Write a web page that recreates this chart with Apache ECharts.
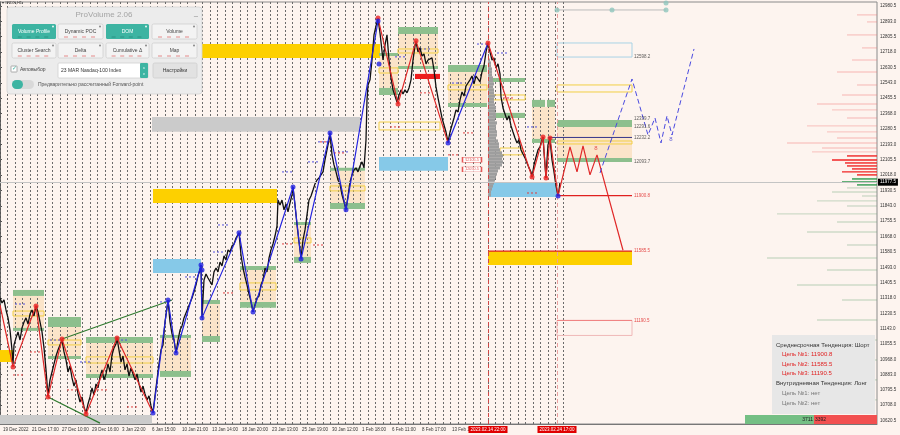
<!DOCTYPE html>
<html><head><meta charset="utf-8">
<script src="https://cdn.jsdelivr.net/npm/echarts@6/dist/echarts.min.js"></script>
<style>html,body{margin:0;padding:0;background:#fdf4ef}#c{width:900px;height:435px}</style>
</head><body><div id="c"></div>
<script>
// ---------- DATA ----------
const xTickLabels = ['19 Dec 2022','21 Dec 17:00','27 Dec 10:00','29 Dec 16:00','3 Jan 22:00','6 Jan 15:00','10 Jan 21:00','13 Jan 14:00','18 Jan 20:00','23 Jan 13:00','25 Jan 19:00','30 Jan 12:00','1 Feb 18:00','6 Feb 11:00','8 Feb 17:00','13 Feb 16:00'];
const xTickPos = [3,32,62,92,122,152,182,212,242,272,302,332,362,392,422,452];
const eventX = [488,557];
const eventLabels = ['2023.02.14 22:00','2023.02.24 17:00'];
const yTickLabels = [12980.5,12893.0,12805.5,12718.0,12630.5,12543.0,12455.5,12368.0,12280.5,12193.0,12105.5,12018.0,11930.5,11843.0,11755.5,11668.0,11580.5,11493.0,11405.5,11318.0,11230.5,11143.0,11055.5,10968.0,10883.0,10795.5,10708.0,10620.5];
const currentPrice = 11977.5;

const pricePath = [[0,11318],[2,11290],[4,11307],[6,11250],[8,11205],[10,11136],[12,11022],[13,10943],[14,11051],[16,11091],[18,11125],[20,11079],[22,11148],[24,11182],[26,11205],[28,11170],[30,11227],[32,11250],[34,11216],[36,11273],[38,11239],[40,11182],[42,11125],[44,11034],[46,10909],[48,10761],[50,10852],[52,10897],[54,10943],[56,10988],[58,11022],[60,11051],[62,11079],[64,11011],[66,10966],[68,10897],[70,10931],[72,10863],[74,10817],[76,10852],[78,10772],[80,10726],[82,10755],[84,10698],[86,10664],[88,10715],[90,10755],[92,10806],[94,10766],[96,10829],[98,10806],[100,10869],[102,10909],[104,10852],[106,10886],[108,10943],[110,10897],[112,10994],[114,11034],[116,11057],[117,11091],[119,11022],[121,10954],[123,10988],[125,10909],[127,10943],[129,10874],[131,10920],[133,10931],[135,10852],[137,10886],[139,10829],[141,10783],[143,10817],[145,10772],[147,10738],[149,10761],[151,10704],[153,10664],[155,10761],[157,10852],[159,10943],[161,11022],[163,11051],[165,11182],[167,11262],[168,11307],[170,11182],[172,11114],[174,11079],[176,11005],[178,11079],[180,11136],[182,11159],[184,11205],[186,11216],[188,11262],[190,11273],[192,11318],[194,11353],[196,11393],[198,11444],[200,11478],[201,11506],[202,11210],[204,11421],[206,11455],[208,11432],[210,11438],[212,11393],[214,11467],[216,11489],[218,11467],[220,11523],[222,11501],[224,11558],[226,11535],[228,11592],[230,11580],[232,11614],[234,11626],[236,11660],[238,11671],[239,11689],[241,11563],[243,11489],[245,11438],[247,11393],[249,11341],[251,11296],[253,11239],[255,11279],[257,11318],[259,11330],[261,11393],[263,11421],[265,11489],[267,11467],[269,11546],[271,11592],[273,11626],[275,11671],[277,11728],[278,11876],[280,11848],[282,11876],[284,11820],[286,11854],[288,11808],[290,11859],[292,11905],[293,11950],[295,11848],[297,11734],[299,11637],[301,11546],[303,11649],[305,11706],[307,11791],[309,11876],[311,11899],[313,11933],[315,11968],[317,11990],[319,12002],[321,12013],[323,12036],[325,12104],[327,12161],[329,12218],[330,12258],[332,12133],[334,12076],[336,12036],[338,11990],[340,11968],[342,11905],[344,11865],[346,11825],[348,11899],[350,11979],[352,12019],[354,12047],[356,12059],[358,12036],[360,12070],[362,12093],[364,12059],[366,12218],[367,12446],[368,12531],[370,12560],[372,12673],[374,12816],[376,12867],[378,12907],[380,12827],[383,12673],[385,12759],[387,12816],[389,12673],[391,12571],[393,12503],[395,12468],[397,12434],[399,12474],[401,12503],[403,12480],[405,12503],[407,12486],[409,12514],[411,12560],[413,12673],[415,12753],[416,12776],[418,12719],[420,12742],[422,12696],[424,12708],[426,12651],[428,12673],[430,12662],[432,12685],[434,12617],[436,12520],[438,12457],[440,12400],[442,12343],[444,12303],[446,12263],[448,12207],[450,12263],[452,12303],[454,12343],[456,12389],[458,12377],[460,12446],[462,12491],[464,12468],[466,12525],[468,12514],[470,12560],[472,12582],[474,12537],[476,12582],[478,12571],[480,12548],[482,12605],[484,12639],[486,12719],[488,12770],[490,12719],[492,12673],[494,12685],[496,12628],[498,12651],[500,12594],[501,12463],[503,12400],[505,12366],[507,12332],[509,12355],[511,12298],[513,12263],[515,12229],[517,12201],[519,12218],[521,12161],[523,12138],[525,12116],[527,12087],[529,12059],[531,12036],[532,12007],[534,12076],[536,12121],[538,12161],[540,12178],[542,12218],[543,12235],[544,12150],[545,12076],[546,12002],[547,12104],[548,12190],[550,12229],[551,12161],[552,12104],[554,12036],[556,11956],[558,11899],[559,11933],[560,11977.5]];

const zigRed1 = [[0,11279],[13,10926],[36,11273],[48,10755],[62,11085],[86,10658],[117,11091],[153,10664]];
const zigBlue1 = [[153,10664],[168,11307],[176,11005],[201,11506],[202,11205],[239,11689],[253,11239],[293,11950],[301,11540],[330,12258],[346,11820],[378,12895]];
const zigRed2 = [[378,12912],[398,12423],[416,12782],[448,12201]];
const zigBlue2 = [[448,12201],[488,12770]];
const zigRed3 = [[488,12770],[532,12007],[543,12235],[546,12002],[550,12229],[558,11899]];
const redDots = [[13,10926],[36,11273],[48,10755],[62,11085],[86,10658],[117,11091],[378,12912],[398,12423],[416,12782],[488,12770],[532,12007],[543,12235],[546,12002],[550,12229]];
const blueDots = [[153,10664],[168,11307],[176,11005],[201,11506],[202,11478],[202,11205],[239,11689],[253,11239],[293,11950],[301,11540],[330,12258],[346,11820],[378,12895],[379,12651],[448,12201],[558,11899]];
const forecastRed = [[558,11899],[570,12178],[577,12036],[583,12184],[590,12019],[597,12133],[623,11590]];
const forecastBlue = [[600,12030],[632,12565],[648,12246],[655,12343],[661,12201],[667,12355],[672,12246],[694,12736]];
const trendUp = [[62,11085],[172,11307]];
const trendDown = [[48,10755],[100,10606]];

// zones: [xFrom, xTo, priceTop, priceBottom]
const yellowZones = [[0,13,11022,10954],[150,380,12764,12685],[153,277,11939,11859],[488,632,11586,11506]];
const grayZones = [[152,360,12349,12264],[0,152,10652,10601]];
const blueZones = [[153,201,11540,11461],[379,448,12121,12042],[489,557,11973,11893]];
const greenZones = [[13,44,11364,11330],[13,44,11148,11131],[48,81,11210,11153],[48,81,10988,10971],[86,153,11096,11062],[86,153,10886,10863],[160,191,11108,11091],[160,191,10903,10869],[202,220,11307,11284],[202,220,11102,11068],[240,276,11501,11478],[240,276,11296,11262],[294,311,11751,11734],[294,311,11552,11518],[330,365,12059,12042],[330,365,11859,11825],[379,398,12713,12696],[379,398,12514,12474],[398,438,12861,12821],[398,438,12639,12622],[448,487,12645,12605],[448,487,12429,12406],[490,525,12571,12548],[493,525,12372,12343],[532,545,12446,12406],[547,555,12446,12406],[532,555,12224,12201],[557,632,12332,12292],[557,632,12115,12093]];
const orangeZones = [[13,44,11330,11148],[48,81,11153,10988],[86,153,11062,10886],[160,191,11091,10903],[202,220,11284,11102],[240,276,11478,11296],[294,311,11734,11552],[330,365,12042,11859],[379,398,12696,12514],[398,438,12821,12639],[448,487,12605,12429],[532,555,12406,12224],[557,632,12292,12115]];
const redZones = [[415,440,12594,12565]];
const yellowBoxes = [[13,44,11244,11216],[48,81,11079,11051],[86,153,10983,10948],[240,276,11404,11364],[294,311,11660,11632],[330,365,11956,11928],[379,398,12628,12599],[398,438,12736,12713],[448,487,12531,12503],[490,525,12474,12446],[379,440,12320,12275],[500,522,12172,12133],[557,632,12531,12491],[557,632,12212,12195]];
const blueBoxes = [[557,632,12770,12690]];
const pinkBoxes = [[557,632,11190.5,11105]];

const navyLevels = [[548,632,12232.2]];
const targets = [11900.8, 11585.5, 11190.5];
const targetLines = [[557,632,11900.8],[488,632,11585.5]];
const pinkLines = [[557,632,11190.5]];
const levelLabels = [[632,12690,'12598.2'],[632,12339.7,'12339.7'],[632,12291.6,'12291.6'],[632,12232.2,'12232.2'],[632,12093.7,'12093.7']];
const priceTags = [[472,12105.5,'12105.5'],[472,12050.5,'12050.5']];
const waveMarks = [[596,12168,'8','#e03030'],[671,12222,'8','#4040d0']];
const tealDots = [[557,12958],[612,12958],[666,12958],[666,12998]];

const blueDashes = [[15,11284],[50,11079],[80,10954],[117,11079],[160,11296],[185,11438],[213,11580],[218,11734],[282,12036],[308,12093],[318,12207],[338,12150],[395,12691],[420,12736],[452,12542],[477,12764],[497,12713],[527,12292]];
const redDashes = [[13,10880],[30,11011],[67,10795],[97,10795],[127,10698],[223,11347],[282,11626],[313,11620],[320,12207],[334,12144],[390,12292],[420,12486],[448,12133],[463,12258],[503,12457],[527,11916]];

// volume profile [price, width]
const profile = [[12673,2],[12656,3],[12639,3],[12622,4],[12605,4],[12588,4],[12571,5],[12554,5],[12537,6],[12520,5],[12503,6],[12486,6],[12468,7],[12451,6],[12434,6],[12417,7],[12400,8],[12383,7],[12366,8],[12349,8],[12332,7],[12315,9],[12298,8],[12281,8],[12264,9],[12246,9],[12229,8],[12212,10],[12195,11],[12178,11],[12161,12],[12144,14],[12127,15],[12110,14],[12093,15],[12076,14],[12059,12],[12042,10],[12024,9],[12007,8],[11990,7],[11973,6],[11956,5],[11939,4],[11922,3],[11905,3]];

// DOM [price, length]
const domRedFaint = [[12930,20],[12890,10],[12816,30],[12742,15],[12673,25],[12605,40],[12531,20],[12474,35],[12423,60],[12389,45],[12343,30],[12298,70],[12264,50],[12229,40],[12201,90],[12172,55],[12150,65]];
const domRedStrong = [[12127,30],[12104,45],[12087,32],[12070,30],[12053,25],[12036,35],[12019,20]];
const domGreenStrong = [[11996,25],[11979,35],[11962,20]];
const domGreenFaint = [[11945,30],[11922,45],[11899,15],[11871,60],[11842,30],[11797,100],[11751,40],[11694,70],[11620,30],[11546,110],[11478,50],[11392,80],[11307,35],[11193,60],[11079,25],[10965,45],[10852,30],[10738,50]];

const buyVolume = 3711, sellVolume = 3392;

// ---------- CHART ----------
const X_MAX = 877, Y_MIN = 10600.9, Y_MAX = 13003.3;
const FONT = 'Liberation Sans';

function rectSeries(data, style, z) {
  return { type:'custom', xAxisIndex:0, yAxisIndex:0, z, silent:true, data, encode:{x:[0,1], y:[2,3]},
    renderItem(p, api) {
      const a = api.coord([api.value(0), api.value(2)]);
      const b = api.coord([api.value(1), api.value(3)]);
      return { type:'rect', shape:{x:a[0], y:a[1], width:b[0]-a[0], height:b[1]-a[1]}, style };
    } };
}
function segSeries(data, style, z) {
  return { type:'custom', xAxisIndex:0, yAxisIndex:0, z, silent:true, data, encode:{x:[0,1], y:2},
    renderItem(p, api) {
      const a = api.coord([api.value(0), api.value(2)]);
      const b = api.coord([api.value(1), api.value(2)]);
      return { type:'line', shape:{x1:a[0], y1:a[1], x2:b[0], y2:b[1]}, style };
    } };
}
function dashSeries(data, color) {
  return { type:'custom', xAxisIndex:0, yAxisIndex:0, z:3, silent:true, data, encode:{x:0, y:1},
    renderItem(p, api) {
      const a = api.coord([api.value(0), api.value(1)]);
      const b = api.coord([api.value(0) + 12, api.value(1)]);
      return { type:'line', shape:{x1:a[0], y1:a[1], x2:b[0], y2:b[1]}, style:{stroke:color, lineWidth:1, lineDash:[2,2]} };
    } };
}
function domSeries(data, fill) {
  return { type:'custom', xAxisIndex:0, yAxisIndex:0, z:2, silent:true, data, encode:{y:0},
    renderItem(p, api) {
      const a = api.coord([X_MAX - api.value(1), api.value(0)]);
      const b = api.coord([X_MAX, api.value(0)]);
      return { type:'rect', shape:{x:a[0], y:a[1]-0.7, width:b[0]-a[0], height:1.4}, style:{fill} };
    } };
}
function lineS(data, color, width, z, dashed) {
  return { type:'line', xAxisIndex:0, yAxisIndex:0, data, symbol:'none', z, silent:true,
    lineStyle:{color, width, type: dashed ? [5,3] : 'solid'} };
}
function dots(data, color) {
  return { type:'scatter', xAxisIndex:0, yAxisIndex:0, data, symbol:'circle', symbolSize:5, z:6, silent:true, itemStyle:{color} };
}

const chart = echarts.init(document.getElementById('c'), null, {renderer:'canvas'});

const series = [
  rectSeries(orangeZones, {fill:'#fbe4c9'}, 0),
  rectSeries(grayZones, {fill:'#cbcbcb'}, 2),
  rectSeries(yellowZones, {fill:'#fdd000'}, 2),
  rectSeries(blueZones, {fill:'#86c9e8'}, 2),
  rectSeries(greenZones, {fill:'#8dbf8d'}, 2),
  rectSeries(redZones, {fill:'#ee1c1c'}, 2),
  rectSeries(yellowBoxes, {fill:'none', stroke:'#f2cf45', lineWidth:1}, 2),
  rectSeries(blueBoxes, {fill:'none', stroke:'#a9d3e6', lineWidth:1}, 2),
  rectSeries(pinkBoxes, {fill:'none', stroke:'#f0b8b8', lineWidth:1}, 2),
  domSeries(domRedFaint, 'rgba(240,120,120,0.35)'),
  domSeries(domRedStrong, '#f02424'),
  domSeries(domGreenStrong, '#2e9a4e'),
  domSeries(domGreenFaint, 'rgba(120,170,130,0.35)'),
  { type:'custom', xAxisIndex:0, yAxisIndex:0, z:2, silent:true, data:profile, encode:{y:0},
    renderItem(p, api) {
      const a = api.coord([eventX[0], api.value(0)]);
      const b = api.coord([eventX[0] + api.value(1), api.value(0)]);
      return { type:'rect', shape:{x:a[0], y:a[1]-1.6, width:b[0]-a[0], height:3.2}, style:{fill:'#9e9e9e'} };
    } },
  segSeries(navyLevels, {stroke:'#34348a', lineWidth:1}, 3),
  segSeries(targetLines, {stroke:'#e02020', lineWidth:1.3}, 3),
  segSeries(pinkLines, {stroke:'#f08080', lineWidth:1}, 3),
  dashSeries(blueDashes, '#5050e0'),
  dashSeries(redDashes, '#e04040'),
  lineS(trendUp, '#2f7a2f', 1.2, 4),
  lineS(trendDown, '#2f7a2f', 1.2, 4),
  { type:'line', xAxisIndex:0, yAxisIndex:0, data:pricePath, symbol:'none', z:4, silent:true,
    lineStyle:{color:'#111', width:1.3},
    markLine:{ silent:true, symbol:'none', animation:false,
      data:[
        { xAxis:eventX[0], lineStyle:{color:'#d04848', type:[4,3], width:1},
          label:{show:true, position:'start', formatter:eventLabels[0], color:'#fff', backgroundColor:'#e00000', fontSize:4.5, fontFamily:FONT, padding:[1,2], distance:2} },
        { xAxis:eventX[1], lineStyle:{color:'#eaa0a0', type:[4,3], width:1},
          label:{show:true, position:'start', formatter:eventLabels[1], color:'#fff', backgroundColor:'#e00000', fontSize:4.5, fontFamily:FONT, padding:[1,2], distance:2} },
        { yAxis:currentPrice, lineStyle:{color:'#c4c4c4', type:'solid', width:1},
          label:{show:true, position:'end', formatter:currentPrice.toFixed(1), color:'#fff', backgroundColor:'#000', fontSize:4.5, fontFamily:FONT, padding:[1,2], distance:1} }
      ] } },
  lineS(zigRed1, '#e02828', 1.2, 5),
  lineS(zigBlue1, '#2424e0', 1.2, 5),
  lineS(zigRed2, '#e02828', 1.2, 5),
  lineS(zigBlue2, '#2424e0', 1.2, 5),
  lineS(zigRed3, '#e02828', 1.2, 5),
  lineS(forecastRed, '#e02828', 1.2, 5),
  lineS(forecastBlue, '#4a4ae0', 1, 5, true),
  dots(redDots, '#e82020'),
  dots(blueDots, '#2020e0'),
  lineS([tealDots[0], tealDots[2]], '#bcbcbc', 1, 3),
  { type:'scatter', xAxisIndex:0, yAxisIndex:0, data:tealDots, symbolSize:5, z:6, silent:true, itemStyle:{color:'#8fc6bd'} },
  { type:'scatter', xAxisIndex:0, yAxisIndex:0, z:6, silent:true, symbolSize:0,
    data: levelLabels.map(d => ({value:[d[0], d[1]], name:d[2]})),
    label:{show:true, position:'right', distance:2, formatter:'{b}', fontSize:4.5, fontFamily:FONT, color:'#333'} },
  { type:'scatter', xAxisIndex:0, yAxisIndex:0, z:6, silent:true, symbolSize:0,
    data: targets.map(t => ({value:[632, t], name:t.toFixed(1)})),
    label:{show:true, position:'right', distance:2, formatter:'{b}', fontSize:4.5, fontFamily:FONT, color:'#e02020'} },
  { type:'scatter', xAxisIndex:0, yAxisIndex:0, z:6, silent:true, symbol:'rect', symbolSize:[19,5],
    itemStyle:{color:'#fff', borderColor:'#e03030', borderWidth:0.8},
    data: priceTags.map(d => ({value:[d[0], d[1]], name:d[2]})),
    label:{show:true, position:'inside', formatter:'{b}', fontSize:3.8, fontFamily:FONT, color:'#e03030'} },
  { type:'scatter', xAxisIndex:0, yAxisIndex:0, z:6, silent:true, symbolSize:0,
    data: waveMarks.map(d => ({value:[d[0], d[1]], name:d[2], label:{color:d[3]}})),
    label:{show:true, position:'inside', formatter:'{b}', fontSize:6, fontFamily:FONT} },
  { type:'bar', xAxisIndex:3, yAxisIndex:2, stack:'v', data:[buyVolume], barWidth:'100%', silent:true,
    itemStyle:{color:'#74bf84'}, label:{show:true, position:'insideRight', formatter:'{c}', fontSize:5, fontFamily:FONT, color:'#1a1a1a', distance:1} },
  { type:'bar', xAxisIndex:3, yAxisIndex:2, stack:'v', data:[sellVolume], barWidth:'100%', silent:true,
    itemStyle:{color:'#f25050'}, label:{show:true, position:'insideLeft', formatter:'{c}', fontSize:5, fontFamily:FONT, color:'#1a1a1a', distance:1} }
];

// UI overlays (indicator panels)
const g = [];
const T = (x, y, text, size, fill, align, weight) => ({type:'text', z:100, style:{x, y, text, fill, font:(weight||'normal')+' '+size+'px "'+FONT+'"', textAlign:align||'left', textVerticalAlign:'middle'}});
const R = (x, y, w, h, fill, stroke, r) => ({type:'rect', z:99, shape:{x, y, width:w, height:h, r:r||0}, style:{fill, stroke:stroke||null, lineWidth:stroke?0.8:0}});
g.push(T(2, 3, '▾ #NDX,H1', 4, '#333'));
g.push(R(7, 7, 195, 87, '#ececec', '#d4d4d4', 3));
g.push(T(104, 14.5, 'ProVolume 2.06', 8, '#a4a4a4', 'center'));
g.push(T(196, 13, '_', 7, '#888', 'center'));
const buttons = [[12,24,44,'Volume Profile',true],[58,24,45,'Dynamic POC',false],[106,24,43,'DOM',true],[152,24,45,'Volume',false],
                 [12,43,44,'Cluster Search',false],[58,43,45,'Delta',false],[106,43,43,'Cumulative Δ',false],[152,43,45,'Map',false]];
buttons.forEach(b => {
  g.push(R(b[0], b[1], b[2], 15, b[4] ? '#3db4a2' : '#f3f3f3', b[4] ? null : '#cfcfcf', 1.5));
  g.push(T(b[0] + b[2]/2, b[1] + 8, b[3], 5, b[4] ? '#fff' : '#444', 'center'));
  g.push({type:'circle', z:100, shape:{cx:b[0]+b[2]-3, cy:b[1]+2.5, r:1}, style:{fill:b[4]?'#e8f8f4':'#888'}});
  [0.2,0.4,0.6,0.8].forEach(f => g.push({type:'line', z:100, shape:{x1:b[0]+b[2]*f-3, y1:b[1]+13, x2:b[0]+b[2]*f+1, y2:b[1]+13}, style:{stroke:b[4]?'#2a8a7c':'#e07070', lineWidth:0.8}}));
});
g.push(R(11, 66, 6, 6, '#fff', '#999', 0.5));
g.push(T(14, 68.5, '✓', 6, '#3db4a2', 'center'));
g.push(T(20, 70, 'Автовыбор', 5, '#444'));
g.push(R(58, 63, 90, 15, '#fff', '#d0d0d0', 1));
g.push(T(61, 71, '23 MAR Nasdaq-100 Index', 5, '#333'));
g.push(R(140, 63, 8, 15, '#3db4a2', null, 1));
g.push(T(144, 68, '˄', 4, '#fff', 'center'));
g.push(T(144, 74, '˅', 4, '#fff', 'center'));
g.push(R(153, 63, 44, 15, '#e2e2e2', '#cfcfcf', 1.5));
g.push(T(175, 71, 'Настройки', 5, '#333', 'center'));
g.push(R(12, 80, 22, 9, '#d9d9d9', null, 4.5));
g.push(R(12, 80, 11, 9, '#3db4a2', null, 4.5));
g.push(T(38, 84.5, 'Предварительно рассчитанный Forward-point', 5, '#555'));
// trend info panel
g.push(R(772, 335, 103, 79, '#e7e7e7', null, 0));
g.push(T(776, 345, 'Среднесрочная Тенденция: Шорт', 6, '#333'));
targets.forEach((t, i) => g.push(T(782, 354.5 + i*9.5, 'Цель №' + (i+1) + ': ' + t.toFixed(1), 6, '#e02020')));
g.push(T(776, 383.5, 'Внутридневная Тенденция: Лонг', 6, '#333'));
g.push(T(782, 393.5, 'Цель №1: нет', 6, '#777'));
g.push(T(782, 403.5, 'Цель №2: нет', 6, '#777'));

const option = {
  animation:false,
  backgroundColor:'#fdf4ef',
  grid:[
    {left:0, right:23, top:2, bottom:11, show:true, borderColor:'#8a8a8a', borderWidth:1, backgroundColor:'transparent'},
    {left:-1.8, width:564.75, top:2, bottom:11},
    {left:745, right:23, top:415, bottom:11}
  ],
  xAxis:[
    {gridIndex:0, type:'value', min:0, max:X_MAX, position:'bottom',
      axisLine:{show:true, lineStyle:{color:'#777'}}, axisTick:{show:false}, splitLine:{show:false},
      axisLabel:{customValues:xTickPos, formatter:v => { const i = xTickPos.findIndex(p => Math.abs(p - v) < 0.5); return i >= 0 ? xTickLabels[i] : ''; },
        fontSize:4.5, fontFamily:FONT, color:'#333', align:'left', margin:3}},
    {gridIndex:1, type:'value', min:-2, max:73, interval:1, z:1,
      axisLine:{show:false}, axisTick:{show:false}, axisLabel:{show:false},
      splitLine:{show:true, lineStyle:{color:'#6a6a6a', type:[2,2], width:1}}},
    {gridIndex:2, type:'value', min:0, max:buyVolume + sellVolume, show:false},
    {gridIndex:2, type:'value', min:0, max:buyVolume + sellVolume, show:false}
  ],
  yAxis:[
    {gridIndex:0, type:'value', position:'right', min:Y_MIN, max:Y_MAX,
      axisLine:{show:true, lineStyle:{color:'#555'}},
      axisTick:{show:true, customValues:yTickLabels, length:2, lineStyle:{color:'#555'}},
      axisLabel:{customValues:yTickLabels, formatter:v => v.toFixed(1), fontSize:4.5, fontFamily:FONT, color:'#333', margin:3},
      splitLine:{show:false}},
    {gridIndex:1, type:'value', min:Y_MIN, max:Y_MAX, show:false},
    {gridIndex:2, type:'category', data:['vol'], show:false}
  ],
  series,
  graphic:{elements:g}
};
chart.setOption(option);
</script></body></html>
